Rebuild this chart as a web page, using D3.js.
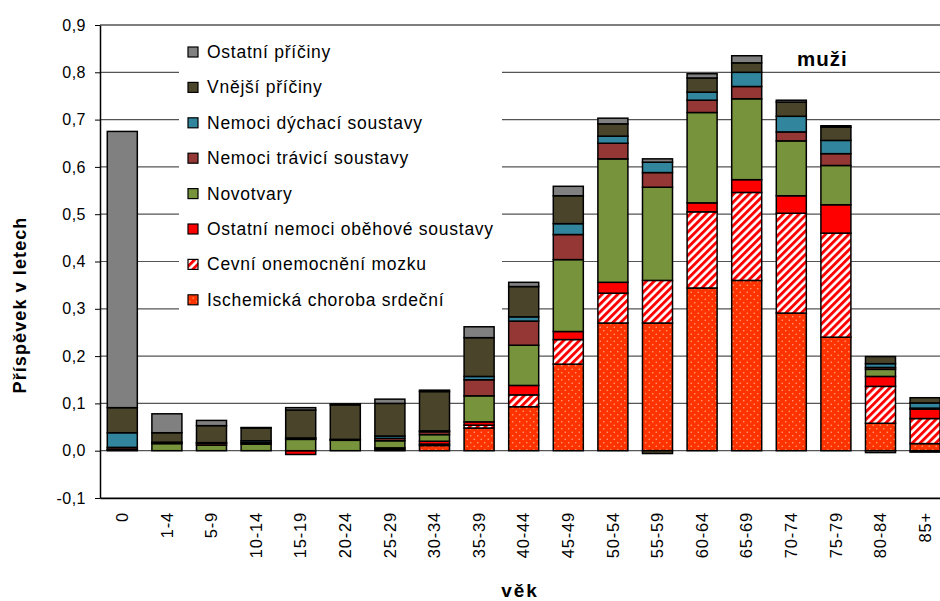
<!DOCTYPE html>
<html>
<head>
<meta charset="utf-8">
<script src="https://cdn.jsdelivr.net/npm/d3@7"></script>
<style>
body { margin: 0; background: #fff; }
text { font-family: "Liberation Sans", Arial, sans-serif; }
</style>
</head>
<body>
<script>

var ages = ["0","1-4","5-9","10-14","15-19","20-24","25-29","30-34","35-39","40-44","45-49","50-54","55-59","60-64","65-69","70-74","75-79","80-84","85+"];

// contributions (years), bottom of the stack first
var ischemicka = [0, 0, 0, 0, 0, 0, 0.003, 0.011, 0.048, 0.093, 0.183, 0.270, 0.270, 0.344, 0.360, 0.291, 0.240, 0.058, 0.015];
var cevni      = [0, 0, 0, 0, 0, 0, 0, 0.003, 0.006, 0.025, 0.052, 0.063, 0.090, 0.161, 0.186, 0.211, 0.220, 0.078, 0.053];
var obehove    = [0.002, 0, 0, 0, -0.008, 0, 0.003, 0.006, 0.007, 0.020, 0.017, 0.023, 0, 0.019, 0.027, 0.037, 0.060, 0.021, 0.020];
var novotvary  = [0.001, 0.015, 0.012, 0.014, 0.024, 0.022, 0.015, 0.014, 0.055, 0.085, 0.152, 0.261, 0.197, 0.191, 0.171, 0.116, 0.083, 0.015, 0.002];
var travici    = [0.004, 0.002, 0.004, 0.003, 0.002, 0.001, 0.005, 0.006, 0.034, 0.051, 0.053, 0.033, 0.031, 0.026, 0.026, 0.019, 0.025, 0.004, 0];
var dychaci    = [0.031, 0.001, 0.001, 0.004, 0.001, 0.001, 0.005, 0.002, 0.007, 0.009, 0.023, 0.015, 0.022, 0.017, 0.030, 0.033, 0.028, 0.008, 0.011];
var vnejsi     = [0.053, 0.020, 0.036, 0.027, 0.059, 0.073, 0.069, 0.083, 0.082, 0.064, 0.059, 0.026, -0.006, 0.030, 0.020, 0.030, 0.028, 0.015, 0.011];
var ostatni    = [0.584, 0.040, 0.011, 0.001, 0.005, 0.002, 0.009, 0.003, 0.023, 0.009, 0.020, 0.012, 0.007, 0.009, 0.015, 0.004, 0.003, -0.004, -0.003];

var seriesKeys = ["isch","cevni","obeh","novo","trav","dych","vnejsi","ost"];
var seriesValues = [ischemicka, cevni, obehove, novotvary, travici, dychaci, vnejsi, ostatni];
var seriesNames = ["Ischemická choroba srdeční","Cevní onemocnění mozku","Ostatní nemoci oběhové soustavy","Novotvary","Nemoci trávicí soustavy","Nemoci dýchací soustavy","Vnější příčiny","Ostatní příčiny"];
var seriesFills = ["url(#dots)","url(#stripes)","#ff0000","#77933c","#953735","#31859c","#4a452a","#808080"];

var yTicks = [-0.1, 0, 0.1, 0.2, 0.3, 0.4, 0.5, 0.6, 0.7, 0.8, 0.9];

var w = 940, h = 601;
var plotLeft = 100, plotRight = 947.4, plotTop = 25, plotBottom = 498;

var table = ages.map(function(a, i) {
	var row = {age: a};
	seriesKeys.forEach(function(k, j) { row[k] = seriesValues[j][i]; });
	return row;
});

var stacked = d3.stack().keys(seriesKeys).offset(d3.stackOffsetDiverging)(table);

var svg = d3.select("body").append("svg")
	.attr("width", w)
	.attr("height", h);

var defs = svg.append("defs");

var dots = defs.append("pattern")
	.attr("id", "dots")
	.attr("patternUnits", "userSpaceOnUse")
	.attr("width", 7).attr("height", 7);
dots.append("rect").attr("width", 7).attr("height", 7).attr("fill", "#ff3300");
dots.append("circle").attr("cx", 1.75).attr("cy", 1.75).attr("r", 0.8).attr("fill", "#ffa080");
dots.append("circle").attr("cx", 5.25).attr("cy", 5.25).attr("r", 0.8).attr("fill", "#ffa080");

var stripes = defs.append("pattern")
	.attr("id", "stripes")
	.attr("patternUnits", "userSpaceOnUse")
	.attr("width", 5.5).attr("height", 5.5)
	.attr("patternTransform", "rotate(45)");
stripes.append("rect").attr("width", 5.5).attr("height", 5.5).attr("fill", "#fff");
stripes.append("rect").attr("width", 2.9).attr("height", 5.5).attr("fill", "#ff0000");

var x = d3.scaleBand()
	.domain(ages)
	.range([plotLeft, plotRight])
	.paddingInner(0.327)
	.paddingOuter(0.1635);

var y = d3.scaleLinear()
	.domain([-0.1, 0.9])
	.range([plotBottom, plotTop]);

// grid
svg.append("g").selectAll("line")
	.data(yTicks)
	.enter().append("line")
	.attr("x1", plotLeft).attr("x2", plotRight)
	.attr("y1", function(d) { return y(d); })
	.attr("y2", function(d) { return y(d); })
	.attr("stroke", function(d) { return d == 0.9 ? "#000" : "#555"; })
	.attr("stroke-width", 1.2);

// bars
svg.append("g").selectAll("g")
	.data(stacked)
	.enter().append("g")
	.attr("fill", function(d, i) { return seriesFills[i]; })
	.selectAll("rect")
	.data(function(d) { return d.filter(function(p) { return p[1] - p[0] != 0; }); })
	.enter().append("rect")
	.attr("x", function(d) { return x(d.data.age); })
	.attr("width", x.bandwidth())
	.attr("y", function(d) { return y(d[1]); })
	.attr("height", function(d) { return y(d[0]) - y(d[1]); })
	.attr("stroke", "#000")
	.attr("stroke-width", 1.5);

// axes
var yAxis = svg.append("g")
	.attr("transform", "translate(" + plotLeft + ",0)")
	.call(d3.axisLeft(y).tickValues(yTicks).tickSize(5).tickSizeOuter(0).tickPadding(9)
		.tickFormat(function(d) { return d3.format(".1f")(d).replace(".", ",").replace("−", "-"); }));
yAxis.select(".domain").attr("stroke", "#000").attr("stroke-width", 1.5);
yAxis.selectAll("text").attr("font-size", 16).attr("letter-spacing", 0.5).attr("fill", "#000");

var xAxis = svg.append("g")
	.attr("transform", "translate(0," + plotBottom + ")")
	.call(d3.axisBottom(x).tickSize(0).tickSizeOuter(0));
xAxis.select(".domain").attr("stroke", "#000").attr("stroke-width", 1.5);
xAxis.selectAll("text")
	.attr("font-size", 16.5)
	.attr("letter-spacing", 0.8)
	.attr("fill", "#000")
	.attr("text-anchor", "end")
	.attr("transform", "rotate(-90)")
	.attr("x", -14)
	.attr("y", 0)
	.attr("dy", "0.35em");

// legend
svg.append("rect")
	.attr("x", 179).attr("y", 29)
	.attr("width", 323).attr("height", 296)
	.attr("fill", "#fff");

var legendOrder = [7, 6, 5, 4, 3, 2, 1, 0];
var legend = svg.append("g").selectAll("g")
	.data(legendOrder)
	.enter().append("g")
	.attr("transform", function(d, i) { return "translate(188," + (52 + i * 35.4) + ")"; });
legend.append("rect")
	.attr("x", 0).attr("y", -5)
	.attr("width", 10).attr("height", 10)
	.attr("fill", function(d) { return seriesFills[d]; })
	.attr("stroke", "#000")
	.attr("stroke-width", 1.2);
legend.append("text")
	.attr("x", 19)
	.attr("y", 6)
	.attr("font-size", 17.5)
	.attr("letter-spacing", 0.75)
	.text(function(d) { return seriesNames[d]; });

// titles
svg.append("text")
	.attr("x", 797).attr("y", 66)
	.attr("font-size", 20.5)
	.attr("font-weight", "bold")
	.attr("letter-spacing", 1)
	.text("muži");

svg.append("text")
	.attr("x", 520).attr("y", 597)
	.attr("text-anchor", "middle")
	.attr("font-size", 19)
	.attr("font-weight", "bold")
	.attr("letter-spacing", 2)
	.text("věk");

svg.append("text")
	.attr("transform", "translate(26,305) rotate(-90)")
	.attr("text-anchor", "middle")
	.attr("font-size", 18)
	.attr("font-weight", "bold")
	.attr("letter-spacing", 1.1)
	.text("Příspěvek v letech");

</script>
</body>
</html>
